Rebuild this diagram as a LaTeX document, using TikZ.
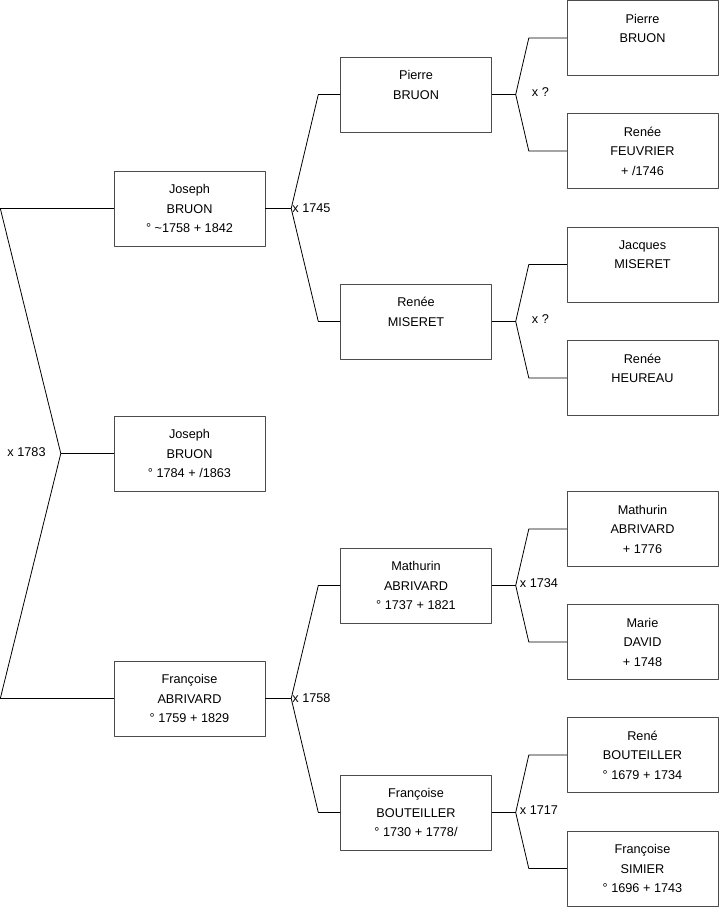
\documentclass[tikz,border=0pt]{standalone}
\usepackage{fontspec}
\setmainfont{Liberation Sans}
\usetikzlibrary{calc}
\usetikzlibrary{positioning}

\begin{document}
\begin{tikzpicture}[x=1pt,y=-1pt,line join=round,
  person/.style={draw=black!70,fill=white,minimum width=151pt,minimum height=75pt,inner sep=0pt,align=center,font=\fontsize{12.7}{19.5}\selectfont},
  link/.style={draw=black,line width=0.8pt},
  wed/.style={inner sep=1pt,font=\fontsize{12.7}{14}\selectfont}]
\useasboundingbox (0,0) rectangle (719,908);
% child and parents
\node[person] (kid) at (189.5,453.5) {Joseph\\BRUON\\° 1784 + /1863};
\node[person] (dad) at (189.5,208.5) {Joseph\\BRUON\\° \textasciitilde1758 + 1842};
\node[person] (mum) at (189.5,698.5) {Françoise\\ABRIVARD\\° 1759 + 1829};
% grandparents
\node[person] (dadF) at (416,94.5) {Pierre\\BRUON\\\phantom{0}};
\node[person] (dadM) at (416,321.5) {Renée\\MISERET\\\phantom{0}};
\node[person] (mumF) at (416,585.5) {Mathurin\\ABRIVARD\\° 1737 + 1821};
\node[person] (mumM) at (416,812.5) {Françoise\\BOUTEILLER\\° 1730 + 1778/};
% great-grandparents
\node[person] (dadFF) at (642.5,38) {Pierre\\BRUON\\\phantom{0}};
\node[person] (dadFM) at (642.5,151) {Renée\\FEUVRIER\\+ /1746};
\node[person] (dadMF) at (642.5,264.5) {Jacques\\MISERET\\\phantom{0}};
\node[person] (dadMM) at (642.5,378) {Renée\\HEUREAU\\\phantom{0}};
\node[person] (mumFF) at (642.5,529) {Mathurin\\ABRIVARD\\+ 1776};
\node[person] (mumFM) at (642.5,642) {Marie\\DAVID\\+ 1748};
\node[person] (mumMF) at (642.5,755) {René\\BOUTEILLER\\° 1679 + 1734};
\node[person] (mumMM) at (642.5,868.5) {Françoise\\SIMIER\\° 1696 + 1743};
% left fork to the parents
\draw[link] (kid.west) -- ++(-53,0) coordinate (kid-k);
\foreach \p in {dad,mum} {\draw[link] (kid-k) -- ($(\p.west)+(-113.5,0)$) -- (\p.west);}
\node[wed,anchor=east] (w1783) at ($(kid-k)+(-14,-1)$) {x 1783};
% forks to the grandparents
\foreach \c/\f/\m in {dad/dadF/dadM,mum/mumF/mumM} {\draw[link] (\c.east) -- ++(26,0) coordinate (\c-k); \draw[link] (\c-k) -- ($(\f.west)+(-22,0)$) -- (\f.west); \draw[link] (\c-k) -- ($(\m.west)+(-22,0)$) -- (\m.west);}
\node[wed,anchor=west] (w1745) at (dad-k) {x 1745};
\node[wed,anchor=west] (w1758) at (mum-k) {x 1758};
% forks to the great-grandparents
\foreach \c/\f/\m in {dadF/dadFF/dadFM,dadM/dadMF/dadMM,mumF/mumFF/mumFM,mumM/mumMF/mumMM} {\draw[link] (\c.east) -- ++(24,0) coordinate (\c-k); \draw[link] (\c-k) -- ($(\f.west)+(-38,0)$) -- (\f.west); \draw[link] (\c-k) -- ($(\m.west)+(-38,0)$) -- (\m.west);}
\node[wed,anchor=west] (wq1) at ($(dadF-k)+(15,-2)$) {x ?};
\node[wed,anchor=west] (wq2) at ($(dadM-k)+(15,-2)$) {x ?};
\node[wed,anchor=west] (w1734) at ($(mumF-k)+(3,-2)$) {x 1734};
\node[wed,anchor=west] (w1717) at ($(mumM-k)+(3,-2)$) {x 1717};
\end{tikzpicture}
\end{document}
